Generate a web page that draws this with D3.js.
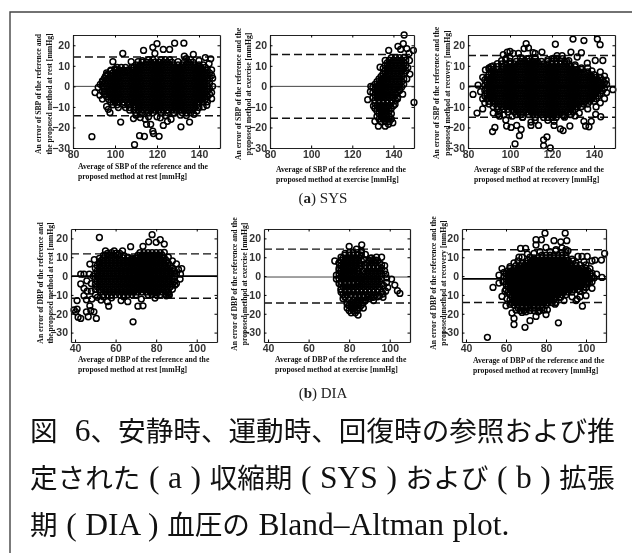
<!DOCTYPE html>
<html>
<head>
<meta charset="utf-8">
<script src="https://cdn.jsdelivr.net/npm/d3@7"></script>
<style>
body { margin: 0; background: #fff; }
svg { display: block; filter: blur(0.35px); }
.tick text { font-family: "Liberation Sans", sans-serif; font-size: 10.5px; font-weight: bold; fill: #333; }
.lab { font-family: "Liberation Serif", serif; font-weight: bold; font-size: 7.7px; fill: #111; }
.cap { font-family: "Noto Sans CJK JP", sans-serif; font-size: 27.6px; fill: #111; white-space: pre; }
.cap .latin { font-family: "Liberation Serif", serif; font-size: 31.5px; word-spacing: 0.7px; }
</style>
</head>
<body>
<div id="chart"></div>
<script>
// tick labels
const sbpXTicks = [80, 100, 120, 140];
const dbpXTicks = [40, 60, 80, 100];
const sbpYTicks = [20, 10, 0, -10, -20, -30];
const dbpYTicks = [20, 10, 0, -10, -20, -30];

// limits of agreement: [upper, mean, lower]
const sbpRestLoA = [14.3, 0, -14.3];
const sbpExerciseLoA = [15.5, 0, -15.5];
const sbpRecoveryLoA = [15, 0, -15];
const dbpRestLoA = [11.8, 0, -11.8];
const dbpExerciseLoA = [14.3, -0.5, -14.3];
const dbpRecoveryLoA = [14, -1.5, -14];

// visible single circles, [average, error]
const sbpRestOut = [[89,-24.5],[90.5,-3],[92,-0.5],[103.7,16],[99,12],[107.7,12],[113.6,17.5],[118,19],[120,20.8],[119,16],[123,18],[126,18],[128.4,21],[132.8,21],[133,14.7],[137.3,15.5],[145.6,13.4],[144.8,11],[102.7,-17.4],[101.6,-10.3],[109.3,-28.4],[111.7,-24],[114,-24.4],[121,-24.3],[118,-21.8],[118.3,-23],[115,-18.5],[117,-18.5],[123,-19],[125,-17],[126.7,-16],[131.4,-19.7],[135.5,-17.4],[114.4,-16],[108.8,-15.7],[112,-15.2],[120,-14.8],[121.6,-15.3],[131.2,-14],[137.6,-13.6],[140,-10.3],[143.7,-9.2],[97.6,-12.8],[96.8,-11.2],[96,-9.8],[94,-6.2],[92.8,-4.3],[94,2],[95.5,5],[143,14],[93,1],[95,-2.5],[96.5,6],[98,7.5],[100,8.5],[102,7.5],[104.5,7],[106,7.5],[109,9.5],[111,12],[113,12.5],[130,12],[134,13.5],[136,13],[140,12.5],[142,10.5],[146,8],[146.5,4],[146.5,0],[146,-3],[146,-6],[144,-7.5],[110,-14],[112,-13.5],[116,-14.8],[124,-14.2],[128,-13],[134,-14.2],[139,-12],[142,-10]];
const sbpExerciseOut = [[145.2,25],[144.8,20.8],[142.2,19.5],[143.5,18],[146.5,18.4],[149.7,17.5],[147.6,16],[137.7,17.5],[133.5,9.3],[136,12.6],[147.8,12.6],[150,-7.8],[127.5,-6.5],[129,0],[128.8,-2.6],[130.3,-9.5],[132.7,-19.4],[131,-17],[136,-19.4],[137.6,-18.5],[139.7,-17.7],[140.8,-8.7],[146.5,3.6],[148,6],[144.5,-3.8],[135,6],[134,3],[147,9],[145,1],[143,-2],[142,-6]];
const sbpRecoveryOut = [[82.4,-3.9],[84.3,-13],[84.8,0.6],[86,-2.6],[87,-11],[87,4.4],[88.3,8],[91.7,-22],[92.8,-20],[94.4,-13.6],[96.8,15.4],[98.7,16.7],[100,17],[101.6,16],[98.4,-19.3],[98,-16.4],[100.5,-20],[102.4,-28],[103.2,-19],[104.5,-24],[105.3,-21],[104,16],[107.7,20.8],[106.7,18.4],[108.8,18.7],[111,16.4],[112,16],[115.2,16.7],[121.6,20.5],[122.4,15],[124.8,15],[129,16.7],[130,23],[135.2,22.3],[134,16.4],[132,14.3],[136.8,11.3],[140.6,12.6],[141.6,23],[142.9,20.3],[144.2,12.6],[145.8,3],[149,-1.6],[116,-26],[117.6,-24.6],[116,-28.8],[119.2,-30],[110,-19],[113.6,-19],[110,-17.4],[121,-19],[121,-17],[124,-20.7],[125.3,-21.5],[128.5,-19.3],[131,-14.4],[135.2,-17],[136,-19.3],[137.6,-19.7],[138.7,-17],[140.8,-13.6],[143.2,-14.8],[125.6,-14.4],[87,-6],[88,-8],[89,2],[90,9],[92,10],[94,11],[96,12.5],[98,13],[100,14],[105,14],[108,13.5],[112,14],[118,13],[121,13.5],[126,12],[128,12.5],[131,10.5],[134,9],[137,9],[139,7.5],[143,7],[145,5],[146,1],[146,-3],[145,-6],[143,-8],[141,-10],[92,-13],[95,-14.5],[101,-14.5],[106,-15],[112,-16.5],[118,-16.5],[126,-15],[133,-13],[137,-11]];
const dbpRestOut = [[52,20.5],[67.4,15.6],[41,-13],[39.5,-18],[41,-17.5],[40.3,-19],[41.5,-21.8],[42.8,-22.5],[45.6,-19],[46.5,-21.6],[47.3,-15.8],[47.8,-18.4],[49.3,-19],[50.5,-22.5],[68.6,-24.3],[42.8,1],[44.4,1],[42.8,-4.2],[44.4,-6.5],[44.4,-10.4],[45.6,-12.6],[48.3,-12.2],[51,-11.3],[52.8,-12.7],[56,-13.6],[56.6,-16],[62.7,-13],[66,-13.6],[71,-16],[73.5,-15.8],[72.7,-12.2],[79.4,-11.7],[86,-8.7],[89.3,-4.8],[92.6,4],[91.8,-1.6],[78,22],[76.3,18.2],[80,17.9],[82,19.3],[84,17],[84,12.6],[55,13.4],[59.3,13.4],[63.4,13.4],[73.5,15.8],[47.3,6.4],[49.5,8.7],[52,9.4],[45.8,-2.5],[46,-8],[48,-4],[47,1],[52,7.5],[54,11],[56,12],[58,12.5],[60,12],[62,12],[64,11],[66,10],[68,9],[70,9.5],[86,10],[88,8],[90,6.5],[91,3.5],[92,1],[90,-4],[88,-7],[86.5,-10],[85,-10.5],[70,-10],[64,-11],[58,-11.5],[54,-11],[50,-10],[48,-8]];
const dbpExerciseOut = [[72.9,8],[73.7,0.5],[73.7,-1.6],[80,15.7],[86.2,16.6],[77,-12],[84.4,-20.7],[92,-13],[92,-11.3],[96.7,-11.3],[98.4,-3.4],[100.9,-1.6],[102.5,-4.8],[103.8,-7.8],[105,-9.2],[99,-6],[96,10],[93.5,10],[90.4,9.4],[97.5,2.8],[96.7,-9.5],[95,-10.4],[83.6,14.3],[86,13.4],[90,8],[93,8.5],[96,6],[97.5,5.5],[98,1],[98.5,-1],[97,-5],[98,-8],[94,-11],[90,-12],[88,-13],[75,3],[75,7],[76,10],[78,12],[88,11.5],[87,9],[75,-4],[76,-7],[78,-11],[79,-15],[87,-17]];
const dbpRecoveryOut = [[50.7,-32.5],[53.5,-6],[56.5,0.5],[56.5,-3.7],[58,-10.8],[60,-15.8],[63,-19.6],[64,-22.5],[64,-25.7],[69.5,-27.2],[72,-23.7],[75,-21.4],[80,-20.4],[80.7,-17.9],[86.2,-24.8],[84.5,-14.9],[68,-19.3],[70.7,-16.6],[74,-16.6],[67.3,14.7],[69.8,14.7],[70.7,11.7],[66.5,10],[75,19.3],[77.7,19.3],[75,16.5],[79.5,22.8],[80,15.2],[84,18.8],[87.4,18.2],[89.6,22.8],[90.4,18.8],[91,13.4],[84.8,13.4],[93.5,8],[96,10.4],[98,10.4],[100.6,10.4],[99,7.6],[103,8],[104.5,8.5],[107.7,8.5],[109.3,12],[105.3,1],[108,-0.7],[103,-6.5],[100.6,-3.4],[101.7,-3.4],[99,-7.3],[100,-10.4],[97,-11],[98.2,-16],[95.6,-12.2],[95,-13],[87.4,-11.3],[58,4],[59,2],[58.5,-3],[59.5,-8],[60.5,-12],[62,-15],[65,-18],[68,-16],[70,-19],[76,-19],[79,-18],[62,5],[64,7],[66,8],[68,10],[72,10],[74,12],[77,13],[82,13],[85,14],[88,15],[90,14],[93,9],[95,7],[97,6],[100,6],[102,4],[103,1.5],[104,-1],[103,-3],[100,-6],[97,-8],[93,-11],[89,-13],[85,-14]];

// overlapping core of each cloud, read row by row: error level and the averages on it
const sbpRestLevels = [13,11.8,10.5,9.2,7.9,6.6,5.3,4,2.7,1.4,0.1,-1.2,-2.5,-3.8,-5.1,-6.4,-7.7,-9,-10.3,-11.6,-12.9];
const sbpRestCore = [
  [116,118,122,124,126],
  [113,115,117,119,121,123,125,127,133,135,137],
  [110,112,114,116,118,120,122,124,126,128,130,132,134,136,138,140],
  [101,103,105,108,109,111,113,115,117,119,121,123,125,127,129,131,133,135,137,139,141,143],
  [98,100,102,104,106,108,110,112,114,116,118,120,122,124,126,128,130,132,134,136,138,140,142,144],
  [96,99,101,103,105,107,109,111,113,115,117,119,121,123,125,127,129,131,133,135,137,139,141,143,145],
  [96,98,100,102,104,106,108,110,112,114,116,118,120,122,124,126,128,130,132,134,136,138,140,142,144,146],
  [95,97,99,101,103,105,107,109,111,113,115,117,119,121,123,125,127,129,131,133,135,137,139,141,143,145],
  [94,96,98,100,102,104,106,108,110,112,114,116,118,120,122,124,126,128,130,132,134,136,138,140,142,144],
  [95,97,99,101,103,105,107,109,111,113,115,117,119,121,123,125,127,129,131,133,135,137,139,141,143,145],
  [94,96,98,100,102,104,106,108,110,112,114,116,118,120,122,124,126,128,130,132,134,136,138,140,142,144],
  [95,97,99,101,103,105,107,109,111,113,115,117,119,121,123,125,127,129,131,133,135,137,139,141,143,145],
  [94,96,98,100,102,104,106,108,110,112,114,116,118,120,122,124,126,128,130,132,134,136,138,140,142,144],
  [95,97,99,101,103,105,107,109,111,113,115,117,119,121,123,125,127,129,131,133,135,137,139,141,143,145],
  [96,98,100,102,104,106,108,110,112,114,116,118,120,122,124,126,128,130,132,134,136,138,140,142,144],
  [97,99,101,103,105,107,109,111,113,115,117,119,121,123,125,127,129,131,133,135,137,139,141,143],
  [98,100,102,104,106,108,110,112,114,116,118,120,122,124,126,128,130,132,134,136,138,140,142],
  [99,101,104,106,107,109,111,113,115,117,119,121,123,125,127,129,131,133,135,137,139],
  [105,107,110,112,114,116,118,120,122,124,126,128,130,132,134,136,138],
  [107,109,111,113,115,117,119,121,123,125,127,129,131,133,135,137],
  [110,113,116,118,122,125,128,132,134,136]
];
const sbpExerciseLevels = [14,12.7,11.4,10.1,8.8,7.5,6.2,4.9,3.6,2.3,1,-0.3,-1.6,-2.9,-4.2,-5.5,-6.8,-8.1,-9.4,-10.7,-12,-13.3,-14.6,-15.9,-17.2];
const sbpExerciseCore = [
  [139,141,143,145],
  [138,140,142,144,146],
  [137,139,141,143,145],
  [136,138,140,142,144,146],
  [135,137,139,141,143,145],
  [136,138,140,142,144,146],
  [135,137,139,141,143,145],
  [134,136,138,140,142,144],
  [133,135,137,139,141,143,145],
  [132,134,136,138,140,142,144],
  [131,133,135,137,139,141,143],
  [130,132,134,136,138,140,142,144],
  [131,133,135,137,139,141,143],
  [130,132,134,136,138,140,142],
  [131,133,135,137,139,141],
  [130,132,134,136,138,140,142],
  [131,133,135,137,139,141],
  [131,133,135,137,139],
  [132,134,136,138,140],
  [131,133,135,137,139],
  [132,134,136,138],
  [133,135,137,139],
  [132,134,136,138],
  [133,135,137,139],
  [134,136,138]
];
const sbpRecoveryLevels = [13.5,12.2,10.9,9.6,8.3,7,5.7,4.4,3.1,1.8,0.5,-0.8,-2.1,-3.4,-4.7,-6,-7.3,-8.6,-9.9,-11.2,-12.5,-13.8,-15.1];
const sbpRecoveryCore = [
  [98,106,109,112,120,122,125],
  [100,103,105,107,109,111,113,115,118,120,122,124,127],
  [96,98,100,102,104,106,108,110,112,114,116,118,120,122,124,126,128],
  [91,94,97,99,101,103,105,107,109,111,113,115,117,119,121,123,125,127,129,131],
  [90,92,94,96,98,100,102,104,106,108,110,112,114,116,118,120,122,124,126,128,130,132,134],
  [91,93,95,97,99,101,103,105,107,109,111,113,115,117,119,121,123,125,127,129,131,133,135,137],
  [90,92,94,96,98,100,102,104,106,108,110,112,114,116,118,120,122,124,126,128,130,132,134,136,138,140],
  [89,91,93,95,97,99,101,103,105,107,109,111,113,115,117,119,121,123,125,127,129,131,133,135,137,139,141,143],
  [88,90,92,94,96,98,100,102,104,106,108,110,112,114,116,118,120,122,124,126,128,130,132,134,136,138,140,142,144],
  [89,91,93,95,97,99,101,103,105,107,109,111,113,115,117,119,121,123,125,127,129,131,133,135,137,139,141,143,145],
  [88,90,92,94,96,98,100,102,104,106,108,110,112,114,116,118,120,122,124,126,128,130,132,134,136,138,140,142,144],
  [89,91,93,95,97,99,101,103,105,107,109,111,113,115,117,119,121,123,125,127,129,131,133,135,137,139,141,143,145],
  [88,90,92,94,96,98,100,102,104,106,108,110,112,114,116,118,120,122,124,126,128,130,132,134,136,138,140,142,144],
  [89,91,93,95,97,99,101,103,105,107,109,111,113,115,117,119,121,123,125,127,129,131,133,135,137,139,141,143],
  [88,90,92,94,96,98,100,102,104,106,108,110,112,114,116,118,120,122,124,126,128,130,132,134,136,138,140,142],
  [89,91,93,95,97,99,101,103,105,107,109,111,113,115,117,119,121,123,125,127,129,131,133,135,137,139,141],
  [90,92,94,96,98,100,102,104,106,108,110,112,114,116,118,120,122,124,126,128,130,132,134,136,138,140],
  [90,93,95,97,99,101,103,105,107,109,111,113,115,117,119,121,123,125,127,129,131,133,135,137],
  [92,94,96,98,100,102,104,106,108,110,112,114,116,118,120,122,124,126,128,130,132,134],
  [94,97,99,101,103,105,107,109,111,113,115,117,119,121,123,125,127,129,131],
  [95,99,102,104,106,108,110,112,114,116,118,120,122,124,126,128,130],
  [97,103,105,109,111,113,115,117,119,121,123,125,129],
  [106,112,116,118,120,122]
];
const dbpRestLevels = [12.5,11.1,9.7,8.3,6.9,5.5,4.1,2.7,1.3,-0.1,-1.5,-2.9,-4.3,-5.7,-7.1,-8.5,-9.9];
const dbpRestCore = [
  [72,74,76,78,80,82],
  [55,57,59,61,71,73,75,77,79,81,83],
  [54,56,58,60,62,64,66,68,70,72,74,76,78,80,82,84],
  [53,55,57,59,61,63,65,67,69,71,73,75,77,79,81,83,85],
  [52,54,56,58,60,62,64,66,68,70,72,74,76,78,80,82,84,86],
  [51,53,55,57,59,61,63,65,67,69,71,73,75,77,79,81,83,85,87],
  [50,52,54,56,58,60,62,64,66,68,70,72,74,76,78,80,82,84,86,88],
  [51,53,55,57,59,61,63,65,67,69,71,73,75,77,79,81,83,85,87,89],
  [50,52,54,56,58,60,62,64,66,68,70,72,74,76,78,80,82,84,86,88,90],
  [49,51,53,55,57,59,61,63,65,67,69,71,73,75,77,79,81,83,85,87,89],
  [50,52,54,56,58,60,62,64,66,68,70,72,74,76,78,80,82,84,86,88],
  [51,53,55,57,59,61,63,65,67,69,71,73,75,77,79,81,83,85,87,89],
  [50,52,54,56,58,60,62,64,66,68,70,72,74,76,78,80,82,84,86,88],
  [51,53,55,57,59,61,63,65,67,69,71,73,75,77,79,81,83,85,87],
  [50,52,54,56,58,60,62,64,66,68,70,72,74,76,78,80,82,84,86],
  [53,55,57,59,61,63,65,67,69,71,73,75,77,79,81,83,85],
  [54,56,58,60,62,64,66,68,76,78,80,82,85,86]
];
const dbpExerciseLevels = [12.5,11.1,9.7,8.3,6.9,5.5,4.1,2.7,1.3,-0.1,-1.5,-2.9,-4.3,-5.7,-7.1,-8.5,-9.9,-11.3,-12.7,-14.1,-15.5,-16.9,-18.3,-19.5];
const dbpExerciseCore = [
  [80,82,84,86],
  [78,80,82,84,86],
  [77,79,81,83,85,91],
  [76,78,80,82,84,86,90,92,94],
  [75,77,79,81,83,85,89,91,93,95],
  [76,78,80,82,84,86,88,90,92,94],
  [75,77,79,81,83,85,88,90,92,94,96],
  [76,78,80,82,84,87,89,91,93,95],
  [75,77,79,81,83,85,88,90,92,94,96],
  [76,78,80,82,84,86,87,89,91,93,95],
  [75,77,79,81,83,85,86,88,90,92,94,96],
  [76,78,80,82,84,85,87,89,91,93,95],
  [76,78,80,82,84,86,88,90,92,94,96],
  [77,79,81,83,85,87,89,91,93,95],
  [76,78,80,82,84,86,88,90,92,94],
  [76,78,80,82,84,86,88,90,92,94,96],
  [77,79,81,83,85,87,89,91,93],
  [78,83,85,87,89,91],
  [80,82,84,86,88],
  [79,81,83,85,87],
  [80,82,84,86],
  [79,81,83,85],
  [80,82,84],
  [81,83]
];
const dbpRecoveryLevels = [12.5,11.1,9.7,8.3,6.9,5.5,4.1,2.7,1.3,-0.1,-1.5,-2.9,-4.3,-5.7,-7.1,-8.5,-9.9,-11.3,-12.7,-14.1,-15.5,-16.9,-18.3];
const dbpRecoveryCore = [
  [88,90],
  [78,80,82,84,86,88,90],
  [74,76,78,80,82,84,86,88,90],
  [71,73,75,77,79,81,83,85,87,89,91],
  [68,70,72,74,76,78,80,82,84,86,88,90,92],
  [65,67,69,71,73,75,77,79,81,83,85,87,89,91,93,95],
  [62,64,66,68,70,72,74,76,78,80,82,84,86,88,90,92,94,96,98,100],
  [61,63,65,67,69,71,73,75,77,79,81,83,85,87,89,91,93,95,97,99,101],
  [60,62,64,66,68,70,72,74,76,78,80,82,84,86,88,90,92,94,96,98,100,102],
  [59,61,63,65,67,69,71,73,75,77,79,81,83,85,87,89,91,93,95,97,99,101,103],
  [60,62,64,66,68,70,72,74,76,78,80,82,84,86,88,90,92,94,96,98,100,102],
  [59,61,63,65,67,69,71,73,75,77,79,81,83,85,87,89,91,93,95,97,99,101],
  [60,62,64,66,68,70,72,74,76,78,80,82,84,86,88,90,92,94,96,98,100],
  [61,63,65,67,69,71,73,75,77,79,81,83,85,87,89,91,93,95,97,99],
  [60,62,64,66,68,70,72,74,76,78,80,82,84,86,88,90,92,94,96],
  [61,63,65,67,69,71,73,75,77,79,81,83,85,87,89,91,93],
  [62,64,66,68,70,72,74,76,78,80,82,84,86,88,90],
  [63,65,67,69,71,73,75,77,79,81,83,85,87],
  [62,64,66,68,70,72,74,76,78,80,82,84],
  [63,65,67,69,71,73,75,77,79,81,83],
  [64,66,68,70,72,74,76,78,80],
  [66,68,70,72,74,76,78],
  [67,69,72,74,77]
];

// labels
const sbpYRest = ['An error of SBP of the reference and', 'the proposed method at rest [mmHg]'];
const dbpYRest = ['An error of DBP of the reference and', 'the proposed method at rest [mmHg]'];
const sbpYLines = s => ['An error of SBP of the reference and the', 'proposed method at ' + s + ' [mmHg]'];
const dbpYLines = s => ['An error of DBP of the reference and the', 'proposed method at ' + s + ' [mmHg]'];
const sbpXLines = s => ['Average of SBP of the reference and the', 'proposed method at ' + s + ' [mmHg]'];
const dbpXLines = s => ['Average of DBP of the reference and the', 'proposed method at ' + s + ' [mmHg]'];

const captionLines = [
  '図  6、安静時、運動時、回復時の参照および推',
  '定された ( a ) 収縮期 ( SYS ) および ( b ) 拡張',
  '期 ( DIA ) 血圧の Bland–Altman plot.'
];

const width = 632, height = 553;
const svg = d3.select('#chart').append('svg')
    .attr('width', width)
    .attr('height', height);

// frame of the page
svg.append('path')
    .attr('d', 'M10,553V12H632')
    .attr('fill', 'none')
    .attr('stroke', '#444')
    .attr('stroke-width', 1.4);

const sbpDomain = [80, 150], sbpYDomain = [25, -30];
const dbpDomain = [38, 110], dbpYDomain = [25, -35];

const panels = [
  {box: [73, 220, 35, 148], xd: sbpDomain, yd: sbpYDomain, xt: sbpXTicks, yt: sbpYTicks, loa: sbpRestLoA, out: sbpRestOut, lv: sbpRestLevels, core: sbpRestCore,
   yl: sbpYRest, xl: sbpXLines('rest'), ylx: [38, 49], yly: 94, xlx: 78, xly: [169, 179], mean: ['#444', 1]},
  {box: [270, 414, 35, 148], xd: sbpDomain, yd: sbpYDomain, xt: sbpXTicks, yt: sbpYTicks, loa: sbpExerciseLoA, out: sbpExerciseOut, lv: sbpExerciseLevels, core: sbpExerciseCore,
   yl: sbpYLines('exercise'), xl: sbpXLines('exercise'), ylx: [238, 248], yly: 94, xlx: 276, xly: [172, 182], mean: ['#444', 1]},
  {box: [468, 615, 35, 148], xd: sbpDomain, yd: sbpYDomain, xt: sbpXTicks, yt: sbpYTicks, loa: sbpRecoveryLoA, out: sbpRecoveryOut, lv: sbpRecoveryLevels, core: sbpRecoveryCore,
   yl: sbpYLines('recovery'), xl: sbpXLines('recovery'), ylx: [436, 447], yly: 93, xlx: 474, xly: [172, 182], mean: ['#000', 1.6]},
  {box: [71, 217, 229, 342], xd: dbpDomain, yd: dbpYDomain, xt: dbpXTicks, yt: dbpYTicks, loa: dbpRestLoA, out: dbpRestOut, lv: dbpRestLevels, core: dbpRestCore,
   yl: dbpYRest, xl: dbpXLines('rest'), ylx: [40, 50], yly: 283, xlx: 78, xly: [362, 372], mean: ['#000', 1.6]},
  {box: [264, 410, 229, 342], xd: dbpDomain, yd: dbpYDomain, xt: dbpXTicks, yt: dbpYTicks, loa: dbpExerciseLoA, out: dbpExerciseOut, lv: dbpExerciseLevels, core: dbpExerciseCore,
   yl: dbpYLines('exercise'), xl: dbpXLines('exercise'), ylx: [234, 244], yly: 284, xlx: 275, xly: [362, 372], mean: ['#444', 1]},
  {box: [462, 606, 229, 342], xd: dbpDomain, yd: dbpYDomain, xt: dbpXTicks, yt: dbpYTicks, loa: dbpRecoveryLoA, out: dbpRecoveryOut, lv: dbpRecoveryLevels, core: dbpRecoveryCore,
   yl: dbpYLines('recovery'), xl: dbpXLines('recovery'), ylx: [433, 443], yly: 283, xlx: 473, xly: [363, 373], mean: ['#000', 1.6]}
];

panels.forEach(p => {
  const [l, r, t, b] = p.box;
  const x = d3.scaleLinear().domain(p.xd).range([l, r]);
  const y = d3.scaleLinear().domain(p.yd).range([t, b]);
  const g = svg.append('g');

  // zero line and limits
  g.selectAll('line.loa')
    .data(p.loa)
    .enter()
    .append('line')
      .attr('class', 'loa')
      .attr('x1', l).attr('x2', r)
      .attr('y1', d => y(d)).attr('y2', d => y(d))
      .attr('stroke', (d, i) => i == 1 ? p.mean[0] : '#111')
      .attr('stroke-width', (d, i) => i == 1 ? p.mean[1] : 1.4)
      .attr('stroke-dasharray', (d, i) => i == 1 ? null : '8,4');

  // all points: core rows first, single circles after
  const points = [];
  p.lv.forEach((lv, i) => p.core[i].forEach(a => points.push([a, lv])));
  p.out.forEach(d => points.push(d));

  g.append('g').selectAll('circle')
    .data(points)
    .enter()
    .append('circle')
      .attr('cx', d => x(d[0]))
      .attr('cy', d => y(d[1]))
      .attr('r', 2.9)
      .attr('fill', 'none')
      .attr('stroke', '#000')
      .attr('stroke-width', 1.5);

  // axes, ticks point inward on all four sides
  const ax = (gen, tx, ty, labels) => {
    const a = g.append('g').attr('transform', `translate(${tx},${ty})`).call(gen);
    a.select('.domain').attr('stroke', '#222').attr('stroke-width', 1.2);
    if (!labels) a.selectAll('text').remove();
    return a;
  };
  const fmt = d => String(d).replace('-', '\u2212');
  ax(d3.axisBottom(x).tickValues(p.xt).tickSize(-2.5).tickSizeOuter(0).tickPadding(3), 0, b, true);
  ax(d3.axisTop(x).tickValues(p.xt).tickSize(-2.5).tickSizeOuter(0), 0, t, false);
  ax(d3.axisLeft(y).tickValues(p.yt).tickSize(-2.5).tickSizeOuter(0).tickPadding(3).tickFormat(fmt), l, 0, true);
  ax(d3.axisRight(y).tickValues(p.yt).tickSize(-2.5).tickSizeOuter(0), r, 0, false);

  // axis titles
  p.yl.forEach((s, i) => {
    g.append('text').attr('class', 'lab')
      .attr('transform', `translate(${p.ylx[i] + 2.5},${p.yly}) rotate(-90)`)
      .attr('text-anchor', 'middle')
      .text(s);
  });
  p.xl.forEach((s, i) => {
    g.append('text').attr('class', 'lab')
      .attr('x', p.xlx)
      .attr('y', p.xly[i])
      .text(s);
  });
});

// sub captions
[['a', ' SYS', 323, 203], ['b', ' DIA', 323, 398]].forEach(c => {
  const t = svg.append('text')
      .attr('x', c[2]).attr('y', c[3])
      .attr('text-anchor', 'middle')
      .attr('font-family', '"Liberation Serif", serif')
      .attr('font-size', 15)
      .attr('fill', '#222');
  t.append('tspan').text('(');
  t.append('tspan').attr('font-weight', 'bold').text(c[0]);
  t.append('tspan').text(')' + c[1]);
});

// caption, latin runs are set larger than the kana and kanji
captionLines.forEach((line, i) => {
  const t = svg.append('text')
      .attr('class', 'cap')
      .attr('x', 30)
      .attr('y', 441 + i * 47.2);
  line.match(/[ -~–]+|[^ -~–]+/g).forEach(run => {
    t.append('tspan')
      .attr('class', /[ -~–]/.test(run[0]) ? 'latin' : null)
      .text(run);
  });
});
</script>
</body>
</html>
